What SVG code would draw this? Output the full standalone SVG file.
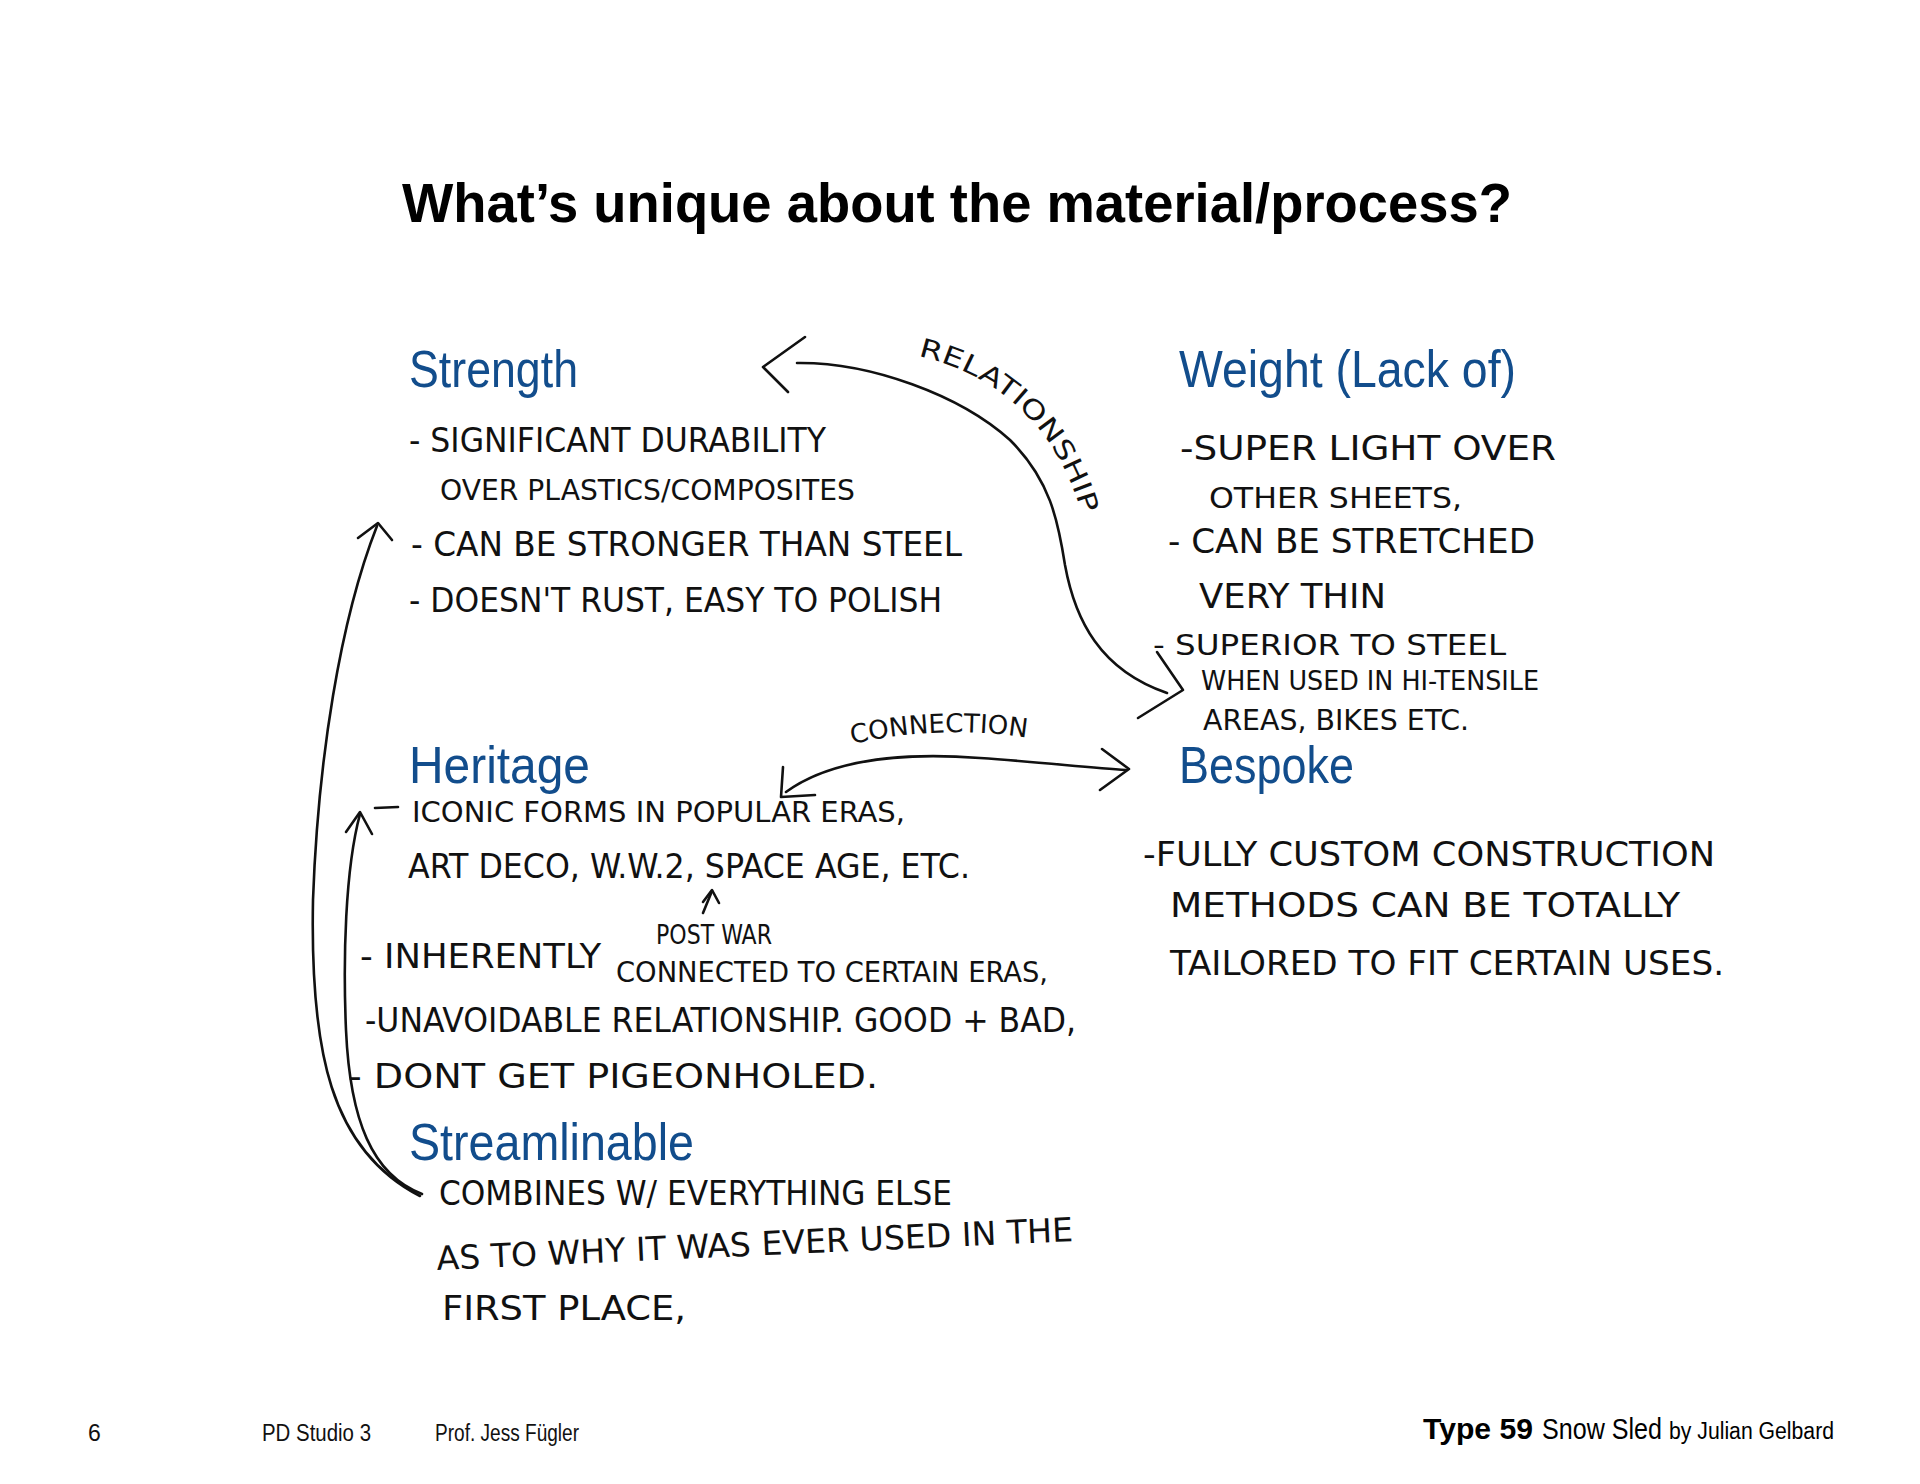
<svg xmlns="http://www.w3.org/2000/svg" width="1920" height="1484" viewBox="0 0 1920 1484">
<defs>
<style>
.title{font-family:"Liberation Sans",Arial,sans-serif;font-weight:bold;font-size:56px;fill:#000}
.head{font-family:"Liberation Sans",Arial,sans-serif;font-size:52px;fill:#124d8c}
.hand{font-family:"DejaVu Sans Condensed","DejaVu Sans",sans-serif;font-size:33px;fill:#111}
.sm{font-size:29px}
.xs{font-size:26px}
.lbl{font-family:"DejaVu Sans Condensed","DejaVu Sans",sans-serif;font-size:26px;fill:#111}
.foot{font-family:"Liberation Sans",Arial,sans-serif;font-size:23px;fill:#111}
.ln{fill:none;stroke:#111;stroke-width:2.6;stroke-linecap:round;stroke-linejoin:round}
</style>
<path id="relPath" d="M 918 356 C 990 372, 1055 420, 1082 515"/>
<path id="conPath" d="M 852 744 Q 940 724 1030 738"/>
</defs>
<rect width="1920" height="1484" fill="#fff"/>

<text class="title" x="402" y="222" textLength="1110" lengthAdjust="spacingAndGlyphs">What’s unique about the material/process?</text>

<g id="strength">
<text class="head" x="409" y="387" textLength="169" lengthAdjust="spacingAndGlyphs">Strength</text>
<text class="hand" x="409" y="452" textLength="417" lengthAdjust="spacingAndGlyphs">- SIGNIFICANT DURABILITY</text>
<text class="hand sm" x="440" y="500" textLength="415" lengthAdjust="spacingAndGlyphs">OVER PLASTICS/COMPOSITES</text>
<text class="hand" x="411" y="556" textLength="551" lengthAdjust="spacingAndGlyphs">- CAN BE STRONGER THAN STEEL</text>
<text class="hand" x="409" y="612" textLength="533" lengthAdjust="spacingAndGlyphs">- DOESN'T RUST, EASY TO POLISH</text>
</g>

<g id="weight">
<text class="head" x="1179" y="387" textLength="337" lengthAdjust="spacingAndGlyphs">Weight (Lack of)</text>
<text class="hand" x="1180" y="460" textLength="376" lengthAdjust="spacingAndGlyphs">-SUPER LIGHT OVER</text>
<text class="hand sm" x="1209" y="508" textLength="253" lengthAdjust="spacingAndGlyphs">OTHER SHEETS,</text>
<text class="hand" x="1168" y="553" textLength="367" lengthAdjust="spacingAndGlyphs">- CAN BE STRETCHED</text>
<text class="hand" x="1199" y="608" textLength="187" lengthAdjust="spacingAndGlyphs">VERY THIN</text>
<text class="hand sm" x="1153" y="655" textLength="353" lengthAdjust="spacingAndGlyphs">- SUPERIOR TO STEEL</text>
<text class="hand xs" x="1201" y="690" textLength="338" lengthAdjust="spacingAndGlyphs">WHEN USED IN HI-TENSILE</text>
<text class="hand sm" x="1203" y="730" textLength="266" lengthAdjust="spacingAndGlyphs">AREAS, BIKES ETC.</text>
</g>

<g id="heritage">
<text class="head" x="409" y="783" textLength="181" lengthAdjust="spacingAndGlyphs">Heritage</text>
<text class="hand sm" x="412" y="822" textLength="493" lengthAdjust="spacingAndGlyphs">ICONIC FORMS IN POPULAR ERAS,</text>
<text class="hand" x="408" y="878" textLength="562" lengthAdjust="spacingAndGlyphs">ART DECO, W.W.2, SPACE AGE, ETC.</text>
<text class="lbl" x="656" y="944" textLength="116" lengthAdjust="spacingAndGlyphs">POST WAR</text>
<text class="hand" x="360" y="968" textLength="241" lengthAdjust="spacingAndGlyphs">- INHERENTLY</text>
<text class="hand sm" x="616" y="982" textLength="432" lengthAdjust="spacingAndGlyphs">CONNECTED TO CERTAIN ERAS,</text>
<text class="hand" x="365" y="1032" textLength="711" lengthAdjust="spacingAndGlyphs">-UNAVOIDABLE RELATIONSHIP. GOOD + BAD,</text>
<text class="hand" x="348" y="1088" textLength="530" lengthAdjust="spacingAndGlyphs">- DONT GET PIGEONHOLED.</text>
</g>

<g id="bespoke">
<text class="head" x="1179" y="783" textLength="175" lengthAdjust="spacingAndGlyphs">Bespoke</text>
<text class="hand" x="1143" y="866" textLength="572" lengthAdjust="spacingAndGlyphs">-FULLY CUSTOM CONSTRUCTION</text>
<text class="hand" x="1170" y="917" textLength="510" lengthAdjust="spacingAndGlyphs">METHODS CAN BE TOTALLY</text>
<text class="hand" x="1170" y="975" textLength="554" lengthAdjust="spacingAndGlyphs">TAILORED TO FIT CERTAIN USES.</text>
</g>

<g id="streamlinable">
<text class="head" x="409" y="1160" textLength="285" lengthAdjust="spacingAndGlyphs">Streamlinable</text>
<text class="hand" x="439" y="1205" textLength="513" lengthAdjust="spacingAndGlyphs">COMBINES W/ EVERYTHING ELSE</text>
<text class="hand" x="437" y="1270" textLength="637" lengthAdjust="spacingAndGlyphs" transform="rotate(-2.6 437 1270)">AS TO WHY IT WAS EVER USED IN THE</text>
<text class="hand" x="442" y="1320" textLength="244" lengthAdjust="spacingAndGlyphs">FIRST PLACE,</text>
</g>

<g id="connectors">
<path class="ln" d="M 797 363 C 870 362, 960 395, 1010 440 C 1050 480, 1058 520, 1065 565 C 1075 620, 1100 670, 1167 693"/>
<polyline class="ln" points="805,337 763,367 788,392"/>
<polyline class="ln" points="1157,652 1183,690 1138,718"/>
<text class="lbl"><textPath href="#relPath" textLength="240" lengthAdjust="spacingAndGlyphs">RELATIONSHIP</textPath></text>

<path class="ln" d="M 786 792 C 830 760, 900 752, 980 758 C 1040 762, 1090 768, 1126 770"/>
<polyline class="ln" points="783,767 781,797 815,795"/>
<polyline class="ln" points="1102,749 1129,769 1100,790"/>
<text class="lbl"><textPath href="#conPath" textLength="176" lengthAdjust="spacingAndGlyphs">CONNECTION</textPath></text>

<path class="ln" d="M 377 526 C 340 620, 318 760, 313 900 C 310 1050, 330 1150, 420 1196"/>
<polyline class="ln" points="358,538 378,523 392,540"/>

<path class="ln" d="M 360 814 C 345 870, 343 960, 346 1030 C 350 1120, 372 1175, 422 1194"/>
<polyline class="ln" points="346,832 360,812 372,834"/>
<line class="ln" x1="375" y1="808" x2="398" y2="807"/>

<line class="ln" x1="703" y1="913" x2="712" y2="891"/>
<polyline class="ln" points="703,902 712,890 719,903"/>
</g>

<g id="footer">
<text class="foot" x="88" y="1441">6</text>
<text class="foot" x="262" y="1441" textLength="109" lengthAdjust="spacingAndGlyphs">PD Studio 3</text>
<text class="foot" x="435" y="1441" textLength="144" lengthAdjust="spacingAndGlyphs">Prof. Jess Fügler</text>
<text x="1423" y="1439" style="font-family:'Liberation Sans',Arial,sans-serif;font-weight:bold;font-size:29px;fill:#000" textLength="110" lengthAdjust="spacingAndGlyphs">Type 59</text>
<text x="1542" y="1439" style="font-family:'Liberation Sans',Arial,sans-serif;font-size:29px;fill:#000" textLength="120" lengthAdjust="spacingAndGlyphs">Snow Sled</text>
<text x="1669" y="1439" style="font-family:'Liberation Sans',Arial,sans-serif;font-size:23px;fill:#000" textLength="165" lengthAdjust="spacingAndGlyphs">by Julian Gelbard</text>
</g>
</svg>
